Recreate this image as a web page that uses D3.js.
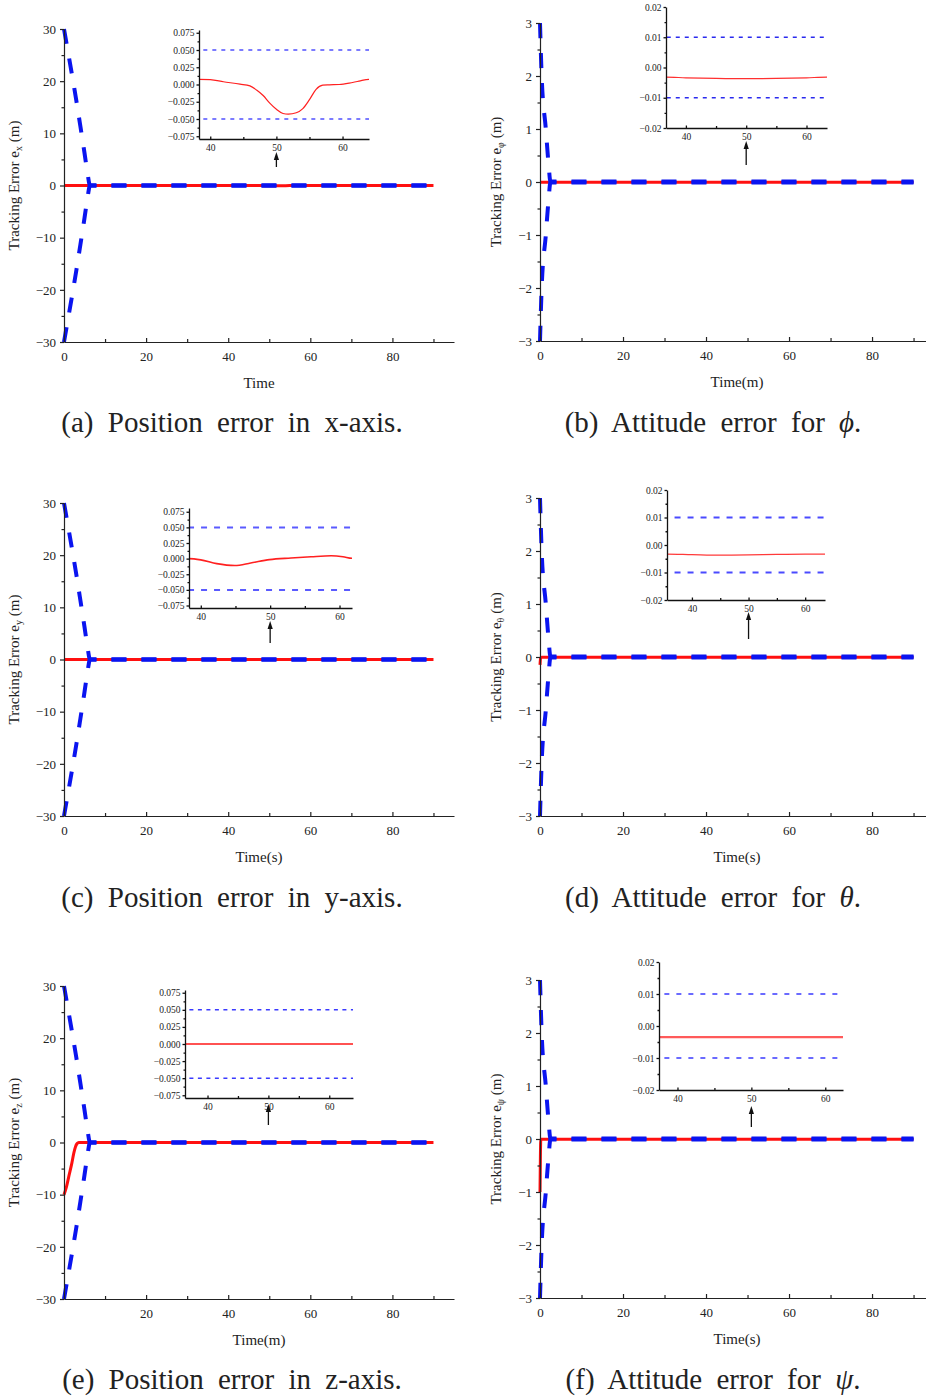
<!DOCTYPE html>
<html><head><meta charset="utf-8">
<script src="https://cdn.jsdelivr.net/npm/d3@7"></script>
<style>
body{margin:0;background:#fff}
svg{display:block}
text{font-family:"Liberation Serif","Times New Roman",serif;fill:#222}
</style>
</head><body>
<svg id="c" width="926" height="1396"></svg>
<script>
// ---------------- DATA ----------------
// prescribed performance bounds (upper; lower is its mirror), [time, value]
const positionBound = [[0,30],[1,25.5],[2,21],[3,16.3],[4,11.3],[5,6.2],[5.8,2],[6.3,0.05],[90,0.05]];
const attitudeBound = [[0,3],[0.4,2],[1.4,1],[2.1,0.3],[2.5,0.01],[90,0.01]];

// tracking errors, [time, value]
const errorX = [[0,0],[10,0.006],[38.3,0.0075],[40,0.007],[42,0.004],[44.5,0.0005],[46,-0.002],[47,-0.008],[48,-0.016],[49,-0.027],[50,-0.036],[51,-0.042],[51.8,-0.043],[53,-0.041],[54,-0.035],[55,-0.022],[56,-0.007],[57,-0.001],[58,-0.0005],[59.5,0],[61,0.002],[62.5,0.005],[64,0.0075],[90,0.008]];
const errorPhi = [[0,-0.0032],[36.7,-0.0032],[40,-0.0034],[45,-0.0036],[50,-0.0037],[55,-0.0036],[60,-0.0034],[63.4,-0.0032],[90,-0.0032]];
const errorY = [[0,0],[38.3,0],[40,-0.002],[42.3,-0.008],[44.9,-0.011],[47.2,-0.007],[49.9,-0.0016],[53,0.001],[55.9,0.003],[58.8,0.0045],[60.5,0.003],[61.8,0.0005],[90,0]];
const errorTheta = [[0,-0.15],[0.15,-0.02],[0.4,-0.003],[35.6,-0.0033],[40,-0.0035],[45,-0.0037],[50,-0.0036],[55,-0.0034],[60,-0.0033],[63.5,-0.0033],[90,-0.0033]];
const errorZ = [[0,-10],[0.6,-8.5],[1.2,-6.4],[1.9,-4],[2.4,-2],[2.8,-0.8],[3.2,-0.2],[3.6,0],[90,0]];
const errorPsi = [[0,-1],[0.1,-0.3],[0.2,-0.0035],[90,-0.0035]];

// tick values / labels
const mainXTicks = [0,20,40,60,80];
const mainXTicksNoZero = [20,40,60,80];
const mainXMinor = [10,30,50,70,90];
const positionYTicks = [-30,-20,-10,0,10,20,30];
const positionYMinor = [-25,-15,-5,5,15,25];
const attitudeYTicks = [-3,-2,-1,0,1,2,3];
const attitudeYMinor = [-2.5,-1.5,-0.5,0.5,1.5,2.5];
const positionInsetTicks = [-0.075,-0.05,-0.025,0,0.025,0.05,0.075];
const positionInsetMinor = [-0.0625,-0.0375,-0.0125,0.0125,0.0375,0.0625];
const attitudeInsetTicks = [-0.02,-0.01,0,0.01,0.02];
const attitudeInsetMinor = [-0.015,-0.005,0.005,0.015];
const insetXTicks = [40,50,60];
const insetXMinor = [45,55];

const subscripts = ["x","φ","y","θ","z","ψ"];
const xLabels = ["Time","Time(m)","Time(s)","Time(s)","Time(m)","Time(s)"];
const captionTexts = ["(a) Position error in x-axis.","(b) Attitude error for ","(c) Position error in y-axis.","(d) Attitude error for ","(e) Position error in z-axis.","(f) Attitude error for "];
const captionSymbols = ["","ϕ","","θ","","ψ"];

// ---------------- LAYOUT ----------------
const L = {l:64, r:454, xMax:95, ylabX:19, capX:232, labX:259};
const R = {l:540, r:926, xMax:93, ylabX:501, capX:713, labX:737};
const panels = [
 {col:L, t:29,  b:342,  err:errorX,     bound:positionBound, kind:"pos", xt:mainXTicks, capY:432,
  inset:{l:199,r:369,t:30,b:139,x0:38.3,x1:64,y0:-0.079,y1:0.079,tip:152,end:167,dash:"4,5",bw:1.6,bc:"#5050ff",rw:1.2,rc:"#ff2020"}},
 {col:R, t:23,  b:341,  err:errorPhi,   bound:attitudeBound, kind:"att", xt:mainXTicks, capY:432,
  inset:{l:666,r:827,t:7,b:128,x0:36.7,x1:63.4,y0:-0.02,y1:0.02,tip:141,end:165,dash:"4,5",bw:1.6,bc:"#2a2aee",rw:1.2,rc:"#ff3030"}},
 {col:L, t:503, b:816,  err:errorY,     bound:positionBound, kind:"pos", xt:mainXTicks, capY:907,
  inset:{l:189,r:352,t:508,b:608,x0:38.3,x1:61.8,y0:-0.079,y1:0.081,tip:621,end:643,dash:"6,7",bw:2,bc:"#5a5aff",rw:1.6,rc:"#ff2020"}},
 {col:R, t:498, b:816,  err:errorTheta, bound:attitudeBound, kind:"att", xt:mainXTicks, capY:907,
  inset:{l:667,r:825,t:490,b:600,x0:35.6,x1:63.5,y0:-0.02,y1:0.02,tip:612,end:639,dash:"6,7",bw:1.8,bc:"#4a4aff",rw:1.3,rc:"#ff3a3a"}},
 {col:L, t:986, b:1299, err:errorZ,     bound:positionBound, kind:"pos", xt:mainXTicksNoZero, capY:1389,
  inset:{l:185,r:353,t:990,b:1098,x0:36.3,x1:63.9,y0:-0.079,y1:0.079,tip:1104,end:1125,dash:"4,4.5",bw:1.6,bc:"#3a3aff",rw:1.6,rc:"#ff1a1a"}},
 {col:R, t:980, b:1298, err:errorPsi,   bound:attitudeBound, kind:"att", xt:mainXTicks, capY:1389,
  inset:{l:659,r:843,t:962,b:1090,x0:37.5,x1:62.4,y0:-0.02,y1:0.02,tip:1106,end:1127,dash:"5,7",bw:1.6,bc:"#3a3aff",rw:2.2,rc:"#ff5a5a"}}
];

const svg = d3.select("#c");
const defs = svg.append("defs");
const mirror = arr => arr.map(d => [d[0], -d[1]]);

panels.forEach((p, i) => {
  const c = p.col;
  const g = svg.append("g");
  const x = d3.scaleLinear().domain([0, c.xMax]).range([c.l, c.r]);
  const yMax = p.kind === "pos" ? 30 : 3;
  const y = d3.scaleLinear().domain([-yMax, yMax]).range([p.b, p.t]);
  const line = d3.line().x(d => x(d[0])).y(d => y(d[1])).curve(d3.curveMonotoneX);

  // lines: red error, blue dashed bounds on top
  g.append("path").datum(p.err).attr("d", line)
    .attr("fill","none").attr("stroke","#ff1010").attr("stroke-width",3);
  [p.bound, mirror(p.bound)].forEach(b => {
    g.append("path").datum(b).attr("d", line)
      .attr("fill","none").attr("stroke","#0a14f0").attr("stroke-width",4)
      .attr("stroke-dasharray","15,15");
  });

  // axes
  const yTicks = p.kind === "pos" ? positionYTicks : attitudeYTicks;
  const yMinor = p.kind === "pos" ? positionYMinor : attitudeYMinor;
  g.append("g").attr("transform", `translate(${c.l},0)`)
    .call(d3.axisLeft(y).tickValues(yTicks).tickSize(4).tickSizeOuter(0).tickPadding(4).tickFormat(d3.format("d")));
  g.append("g").attr("transform", `translate(${c.l},0)`)
    .call(d3.axisLeft(y).tickValues(yMinor).tickSize(2.5).tickFormat(""))
    .call(s => s.select(".domain").remove());
  g.append("g").attr("transform", `translate(0,${p.b})`)
    .call(d3.axisBottom(x).tickValues(p.xt).tickSizeInner(-4).tickSizeOuter(0).tickPadding(10).tickFormat(d3.format("d")));
  g.append("g").attr("transform", `translate(0,${p.b})`)
    .call(d3.axisBottom(x).tickValues(mainXMinor).tickSizeInner(-3).tickSizeOuter(0).tickFormat(""))
    .call(s => s.select(".domain").remove());
  g.selectAll(".tick text").attr("font-size", 13).attr("font-family", '"Liberation Serif",serif').attr("fill","#222");
  g.selectAll(".domain, .tick line").attr("stroke","#222").attr("stroke-width",1.2);

  // axis labels
  const cy = (p.t + p.b) / 2;
  const yl = g.append("text").attr("transform", `translate(${c.ylabX},${cy}) rotate(-90)`)
    .attr("text-anchor","middle").attr("font-size",15);
  yl.append("tspan").text("Tracking Error e");
  yl.append("tspan").attr("dy",3).attr("font-size",10).text(subscripts[i]);
  yl.append("tspan").attr("dy",-3).text(" (m)");
  g.append("text").attr("x", c.labX).attr("y", p.b + 46)
    .attr("text-anchor","middle").attr("font-size",15).text(xLabels[i]);

  // caption
  const cap = svg.append("text").attr("x", c.capX).attr("y", p.capY)
    .attr("text-anchor","middle").attr("font-size",29).attr("word-spacing",7).attr("fill","#111");
  cap.append("tspan").text(captionTexts[i]);
  if (captionSymbols[i]) {
    cap.append("tspan").attr("font-style","italic").text(captionSymbols[i]);
    cap.append("tspan").text(".");
  }

  // inset
  const q = p.inset;
  const xi = d3.scaleLinear().domain([q.x0, q.x1]).range([q.l, q.r]);
  const yi = d3.scaleLinear().domain([q.y0, q.y1]).range([q.b, q.t]);
  const li = d3.line().x(d => xi(d[0])).y(d => yi(d[1])).curve(d3.curveMonotoneX);
  const cid = "clip" + i;
  defs.append("clipPath").attr("id", cid).append("rect")
    .attr("x", q.l).attr("y", q.t - 2).attr("width", q.r - q.l).attr("height", q.b - q.t + 2);
  const gi = svg.append("g");
  const gc = gi.append("g").attr("clip-path", `url(#${cid})`);
  [p.bound, mirror(p.bound)].forEach(b => {
    gc.append("path").datum(b.filter(d => Math.abs(d[1]) < 0.1)).attr("d", li)
      .attr("fill","none").attr("stroke", q.bc).attr("stroke-width", q.bw)
      .attr("stroke-dasharray", q.dash);
  });
  gc.append("path").datum(p.err).attr("d", li)
    .attr("fill","none").attr("stroke", q.rc).attr("stroke-width", q.rw);

  const iTicks = p.kind === "pos" ? positionInsetTicks : attitudeInsetTicks;
  const iMinor = p.kind === "pos" ? positionInsetMinor : attitudeInsetMinor;
  const fmt = p.kind === "pos" ? d3.format(".3f") : d3.format(".2f");
  gi.append("g").attr("transform", `translate(${q.l},0)`)
    .call(d3.axisLeft(yi).tickValues(iTicks).tickSize(2.5).tickSizeOuter(0).tickPadding(2).tickFormat(fmt));
  gi.append("g").attr("transform", `translate(${q.l},0)`)
    .call(d3.axisLeft(yi).tickValues(iMinor).tickSize(1.5).tickFormat(""))
    .call(s => s.select(".domain").remove());
  gi.append("g").attr("transform", `translate(0,${q.b})`)
    .call(d3.axisBottom(xi).tickValues(insetXTicks).tickSizeInner(-2.5).tickSizeOuter(0).tickPadding(5).tickFormat(d3.format("d")));
  gi.append("g").attr("transform", `translate(0,${q.b})`)
    .call(d3.axisBottom(xi).tickValues(insetXMinor).tickSizeInner(-2).tickSizeOuter(0).tickFormat(""))
    .call(s => s.select(".domain").remove());
  gi.selectAll(".tick text").attr("font-size", 9.5).attr("font-family", '"Liberation Serif",serif').attr("fill","#1a1a2a");
  gi.selectAll(".domain, .tick line").attr("stroke","#111").attr("stroke-width",1.3);

  // arrow pointing at t = 50
  const ax = xi(50);
  gi.append("line").attr("x1", ax).attr("x2", ax).attr("y1", q.end).attr("y2", q.tip + 6)
    .attr("stroke","#111").attr("stroke-width",1.3);
  gi.append("path").attr("d", `M${ax},${q.tip}L${ax-2.6},${q.tip+8}L${ax+2.6},${q.tip+8}Z`).attr("fill","#111");
});
</script>
</body></html>
